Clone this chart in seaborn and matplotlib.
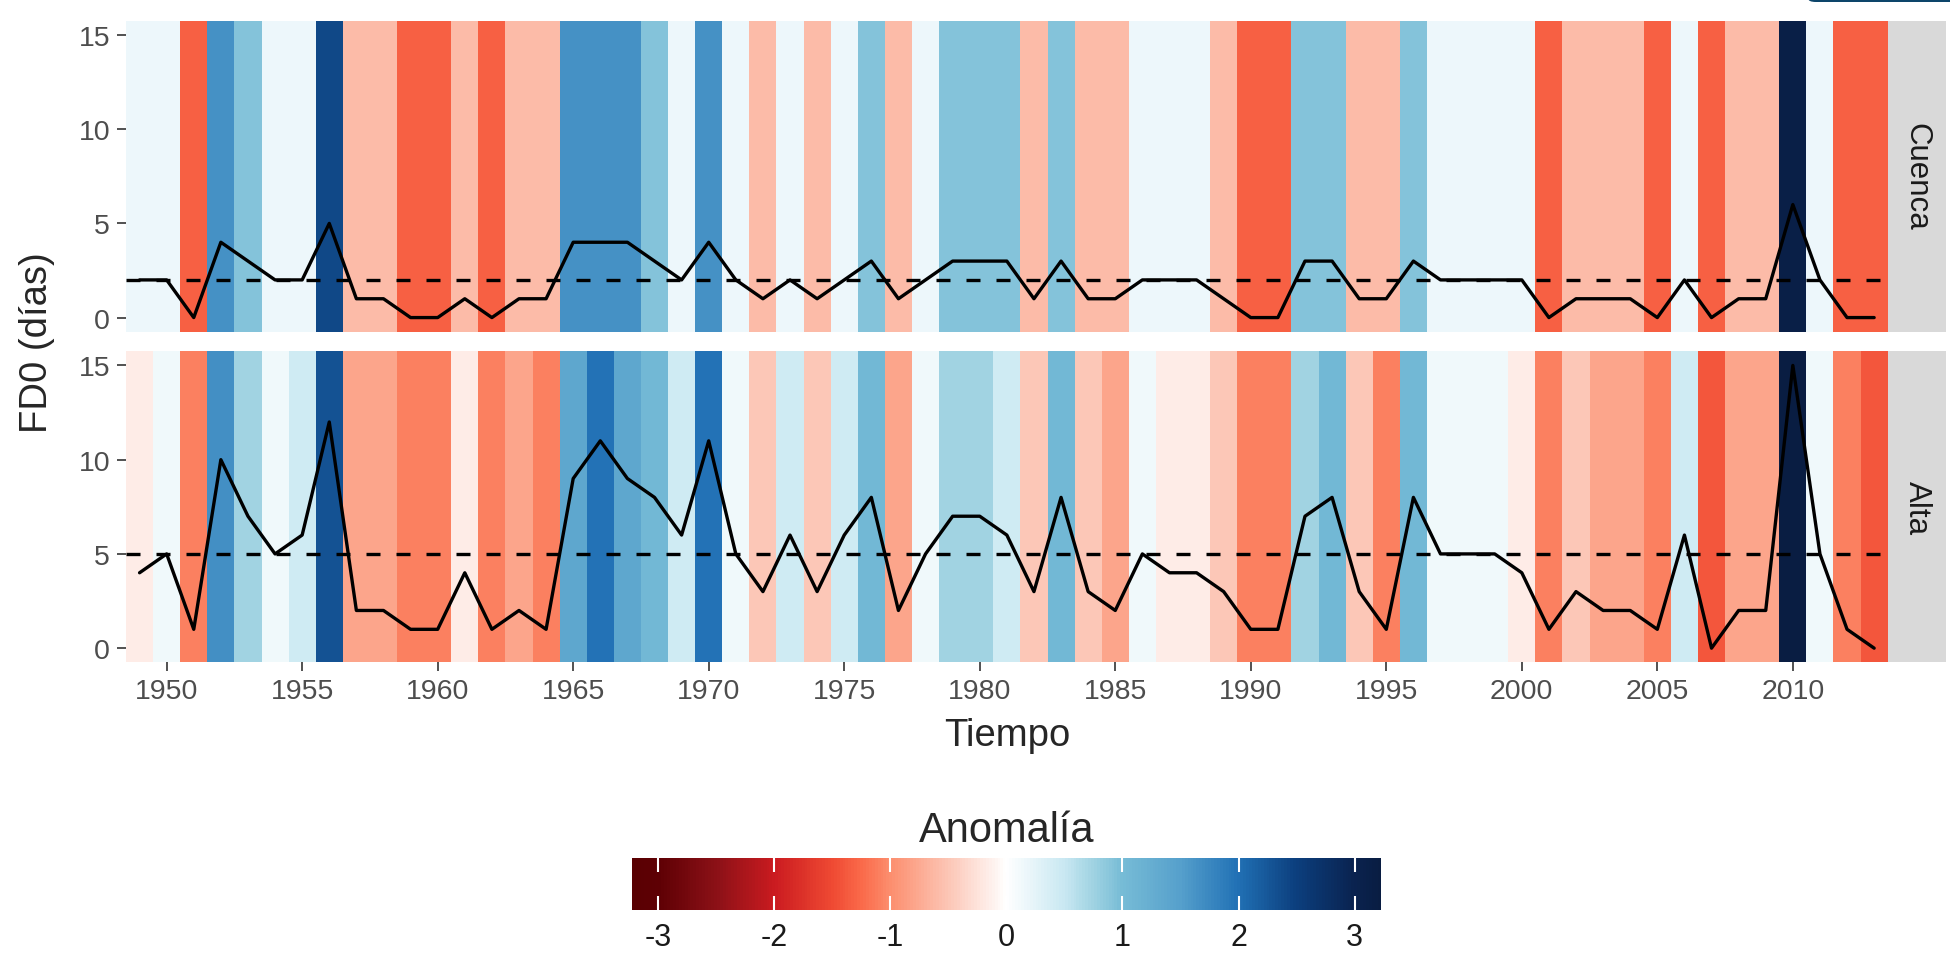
import numpy as np
import pandas as pd
import matplotlib
matplotlib.use("Agg")
import matplotlib.pyplot as plt
import seaborn as sns
from matplotlib.colors import LinearSegmentedColormap, Normalize
from matplotlib.patches import FancyBboxPatch

# Frost days (FD0) per year for the two zones
years = list(range(1949, 2014))
cuenca = [2, 2, 0, 4, 3, 2, 2, 5, 1, 1, 0, 0, 1, 0, 1, 1, 4, 4, 4, 3, 2, 4, 2, 1, 2,
          1, 2, 3, 1, 2, 3, 3, 3, 1, 3, 1, 1, 2, 2, 2, 1, 0, 0, 3, 3, 1, 1, 3, 2, 2,
          2, 2, 0, 1, 1, 1, 0, 2, 0, 1, 1, 6, 2, 0, 0]
alta = [4, 5, 1, 10, 7, 5, 6, 12, 2, 2, 1, 1, 4, 1, 2, 1, 9, 11, 9, 8, 6, 11, 5, 3, 6,
        3, 6, 8, 2, 5, 7, 7, 6, 3, 8, 3, 2, 5, 4, 4, 3, 1, 1, 7, 8, 3, 1, 8, 5, 5,
        5, 4, 1, 3, 2, 2, 1, 6, 0, 2, 2, 15, 5, 1, 0]
zones = ["Cuenca", "Alta"]
year_ticks = list(range(1950, 2011, 5))
fd0_ticks = [0, 5, 10, 15]
cbar_ticks = [-3, -2, -1, 0, 1, 2, 3]

df = pd.DataFrame({
    "year": years * 2,
    "fd0": cuenca + alta,
    "zona": ["Cuenca"] * len(years) + ["Alta"] * len(years),
})
# standardised anomaly of each zone
df["anom"] = df.groupby("zona")["fd0"].transform(lambda s: (s - s.mean()) / s.std())
lim = df["anom"].abs().max()

# diverging red/white/blue ramp
stops = [(-lim, "#5a0002"), (-3.0, "#5e0004"), (-2.5, "#8c1117"), (-2.0, "#cb1b20"),
         (-1.5, "#ef4a33"), (-1.25, "#fa6a4a"), (-1.0, "#fc8e6e"), (-0.5, "#fcc6b6"),
         (0.0, "#ffffff"), (0.5, "#c9e8f2"), (0.75, "#a0d3e2"), (1.0, "#77bcd6"),
         (1.5, "#56a0cc"), (2.0, "#2171b5"), (2.5, "#0c3f7e"), (3.0, "#0a2350"),
         (lim, "#091d42")]
cmap = LinearSegmentedColormap.from_list(
    "anom", [((z + lim) / (2 * lim), c) for z, c in stops])
norm = Normalize(vmin=-lim, vmax=lim)

sns.set_theme(style="white")
plt.rcParams["font.family"] = ["Liberation Sans", "DejaVu Sans"]

W, H = 1950, 954
fig = plt.figure(figsize=(W / 100, H / 100), dpi=100)


def fx(px):
    return px / W


def fy(px):
    return 1 - px / H


panel_left, panel_right = 126, 1887.7
panel_rows = [(22, 332.7), (352.3, 663.3)]
strip_right = 1946
ylim = (-0.75, 15.75)
x_edges = np.append(np.array(years) - 0.5, years[-1] + 0.5)
LW = 2.4

mesh = None
for i, (zona, (top, bottom)) in enumerate(zip(zones, panel_rows)):
    ax = fig.add_axes([fx(panel_left), fy(bottom), fx(panel_right - panel_left),
                       (bottom - top) / H])
    sub = df[df["zona"] == zona]
    mesh = ax.pcolormesh(x_edges, ylim, sub["anom"].to_numpy()[None, :],
                         cmap=cmap, norm=norm, shading="flat",
                         edgecolor="face", linewidth=0, antialiased=False)
    ax.axhline(np.round(sub["fd0"].mean()), color="black", lw=LW,
               ls=(0, (4.2, 4.8)), zorder=3)
    sns.lineplot(data=sub, x="year", y="fd0", color="black", lw=LW, ax=ax, zorder=4)
    ax.set_xlim(x_edges[0], x_edges[-1])
    ax.set_ylim(*ylim)
    ax.set_yticks(fd0_ticks)
    ax.set_xlabel("")
    ax.set_ylabel("")
    for sp in ax.spines.values():
        sp.set_visible(False)
    ax.tick_params(axis="both", length=6.5, width=1.2, color="#333333",
                   labelsize=20.5, labelcolor="#4d4d4d", pad=5, left=True)
    if i == 1:
        ax.set_xticks(year_ticks)
        ax.tick_params(axis="x", bottom=True)
    else:
        ax.set_xticks([])

    # facet strip
    sax = fig.add_axes([fx(panel_right), fy(bottom), fx(strip_right - panel_right),
                        (bottom - top) / H])
    sax.set_facecolor("#d9d9d9")
    sax.set_xticks([])
    sax.set_yticks([])
    for sp in sax.spines.values():
        sp.set_visible(False)
    sax.text(0.5, 0.5, zona, rotation=-90, ha="center", va="center",
             fontsize=22.5, color="#1a1a1a", transform=sax.transAxes)

fig.text(fx(1006.9), fy(736), "Tiempo", ha="center", va="center", fontsize=27.5)
fig.text(fx(37), fy(342.6), "FD0 (días)", ha="center", va="center",
         rotation=90, fontsize=27.5)

# colour bar
cax = fig.add_axes([fx(632), fy(911), fx(1380.6 - 632), 52 / H])
cb = fig.colorbar(mesh, cax=cax, orientation="horizontal")
cb.set_ticks(cbar_ticks)
cb.set_ticklabels([str(t) for t in cbar_ticks])
cb.outline.set_visible(False)
cax.set_axisbelow(False)
cax.minorticks_off()
cax.tick_params(which="major", direction="in", length=10, width=1.5, color="white",
                top=True, bottom=True, labelsize=22, labelcolor="#1a1a1a", pad=9)
fig.text(fx(1006.3), fy(831), "Anomalía", ha="center", va="center", fontsize=30)

fig.patches.append(FancyBboxPatch((fx(1808), fy(3)), fx(200), 0.03,
                                  boxstyle="round,pad=0,rounding_size=0.004",
                                  transform=fig.transFigure, fc="#0d456a",
                                  ec="none", zorder=5))

fig.savefig("out.png", dpi=100)
